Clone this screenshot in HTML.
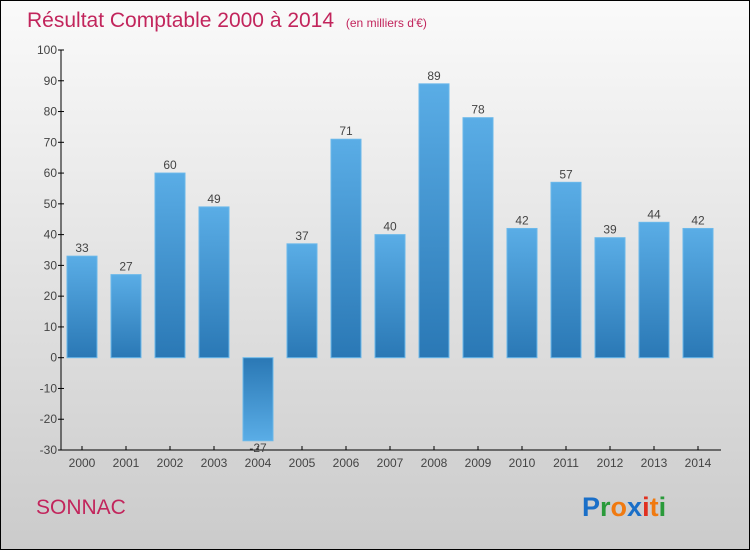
<!DOCTYPE html>
<html><head><meta charset="utf-8"><style>
body{margin:0;}
#c{width:750px;height:550px;}
text{font-family:"Liberation Sans",sans-serif;}
</style></head><body>
<svg id="c" width="750" height="550">
<defs>
<linearGradient id="bg" x1="0" y1="0" x2="0" y2="1"><stop offset="0" stop-color="#fafafa"/><stop offset="1" stop-color="#cbcbcb"/></linearGradient>
<linearGradient id="bp" x1="0" y1="0" x2="0" y2="1"><stop offset="0" stop-color="#5aade6"/><stop offset="1" stop-color="#2a78b5"/></linearGradient>
<linearGradient id="bn" x1="0" y1="0" x2="0" y2="1"><stop offset="0" stop-color="#2a78b5"/><stop offset="1" stop-color="#5aade6"/></linearGradient>
</defs>
<rect x="0.5" y="0.5" width="749" height="549" fill="url(#bg)" stroke="#000"/>
<text x="27" y="27" font-size="21" fill="#c2255c">Résultat Comptable 2000 à 2014 <tspan font-size="12" dx="6">(en milliers d'€)</tspan></text>
<g id="plot"></g>
<text x="36" y="514" font-size="21" fill="#c2255c">SONNAC</text>
<text x="582" y="516" font-size="27" font-weight="bold"><tspan fill="#1a6fc8">P</tspan><tspan fill="#2a9a3a">r</tspan><tspan fill="#f07a10">o</tspan><tspan fill="#1a6fc8">x</tspan><tspan fill="#e03020">i</tspan><tspan fill="#f07a10">t</tspan><tspan fill="#2a9a3a">i</tspan></text>
</svg>
<script>
const categories=["2000","2001","2002","2003","2004","2005","2006","2007","2008","2009","2010","2011","2012","2013","2014"];
const values=[33,27,60,49,-27,37,71,40,89,78,42,57,39,44,42];
const yTicks=[100,90,80,70,60,50,40,30,20,10,0,-10,-20,-30];
const NS="http://www.w3.org/2000/svg";
const g=document.getElementById('plot');
const y=v=>50+(100-v)*400/130;
const x=i=>82+i*44;
function mk(t,a,p){const e=document.createElementNS(NS,t);for(const k in a)e.setAttribute(k,a[k]);(p||g).appendChild(e);return e;}
let ax=mk('line',{x1:61,y1:50,x2:61,y2:450,stroke:'#000'});


let xa=mk('line',{x1:61,y1:450,x2:721,y2:450,stroke:'#000'});


yTicks.forEach(v=>{
 mk('line',{x1:58,y1:y(v),x2:64,y2:y(v),stroke:'#000'});
 const t=mk('text',{x:57,y:y(v)+4,'text-anchor':'end','font-size':12,fill:'#444'});t.textContent=v;
 
 
});
categories.forEach((c,i)=>{
 const v=values[i];
 mk('line',{x1:x(i),y1:446,x2:x(i),y2:450,stroke:'#000'});
 const t=mk('text',{x:x(i),y:467,'text-anchor':'middle','font-size':12,fill:'#444'});t.textContent=c;
 
 
 const top=Math.min(y(v),y(0)),h=Math.abs(y(v)-y(0));
 const r=mk('rect',{x:x(i)-15,y:top,width:30,height:h,fill:v>=0?'url(#bp)':'url(#bn)',stroke:'#6ab8ea','stroke-width':1});
 
 
 const l=mk('text',{x:x(i),y:v>=0?y(v)-4:y(v)+11,'text-anchor':'middle','font-size':12,fill:'#444'});l.textContent=v;
 
 
});
</script>
</body></html>
